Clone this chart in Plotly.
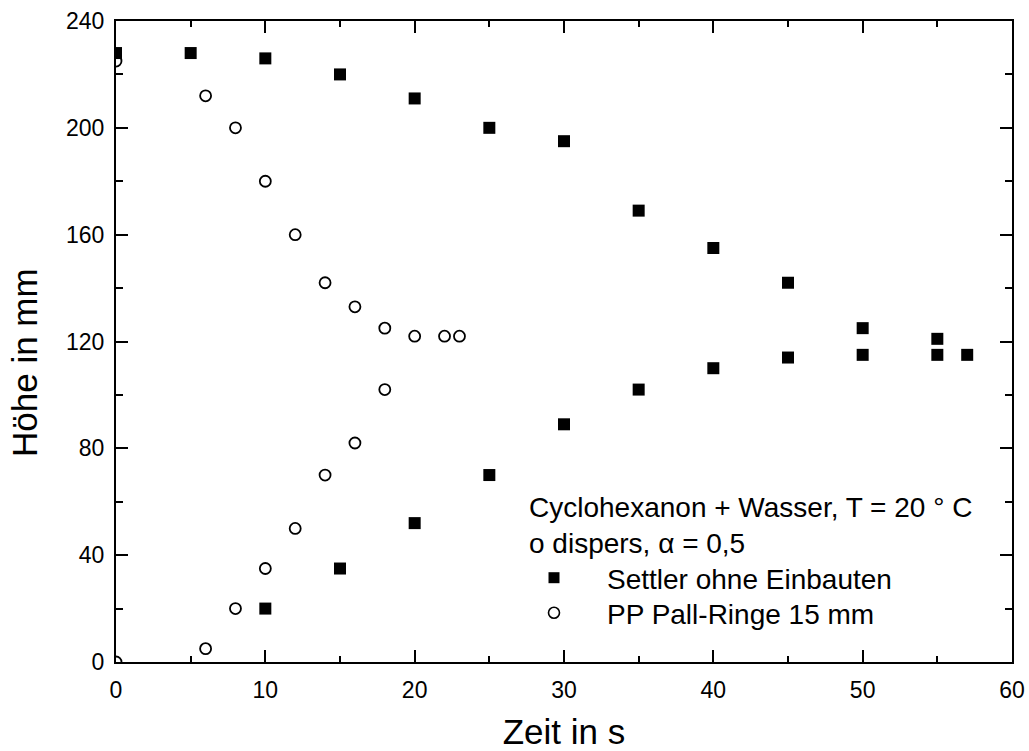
import plotly.graph_objects as go

# Settler ohne Einbauten (filled squares)
settler_t = [0, 5, 10, 15, 20, 25, 30, 35, 40, 45, 50, 55,
             57, 55, 50, 45, 40, 35, 30, 25, 20, 15, 10]
settler_h = [228, 228, 226, 220, 211, 200, 195, 169, 155, 142, 125, 121,
             115, 115, 115, 114, 110, 102, 89, 70, 52, 35, 20]

# PP Pall-Ringe 15 mm (open circles)
pall_t = [0, 6, 8, 10, 12, 14, 16, 18, 20, 22, 23,
          18, 16, 14, 12, 10, 8, 6, 0]
pall_h = [225, 212, 200, 180, 160, 142, 133, 125, 122, 122, 122,
          102, 82, 70, 50, 35, 20, 5, 0]

x_ticks = [0, 10, 20, 30, 40, 50, 60]
y_ticks = [0, 40, 80, 120, 160, 200, 240]

FONT = "Liberation Sans, Arial, sans-serif"

# plot-area geometry in pixels (for placing legend/annotation boxes)
L, R, T, B = 116, 1012, 21, 662
PW, PH = R - L, B - T

fig = go.Figure()
fig.add_trace(go.Scatter(
    x=settler_t, y=settler_h, mode="markers", showlegend=False,
    marker=dict(symbol="square", size=12, color="black", line=dict(width=0)),
))
fig.add_trace(go.Scatter(
    x=pall_t, y=pall_h, mode="markers", showlegend=False,
    marker=dict(symbol="circle-open", size=11, color="black", line=dict(width=1.8)),
))
# legend entries
fig.add_trace(go.Scatter(
    x=[None], y=[None], mode="markers", name="Settler ohne Einbauten", legend="legend",
    marker=dict(symbol="square", size=11, color="black"),
))
fig.add_trace(go.Scatter(
    x=[None], y=[None], mode="markers", name="PP Pall-Ringe 15 mm", legend="legend2",
    marker=dict(symbol="circle-open", size=11, color="black", line=dict(width=1.6)),
))

axis_common = dict(
    showline=True, linecolor="black", linewidth=2, mirror="ticks",
    ticks="inside", ticklen=12, tickwidth=2, tickcolor="black",
    showgrid=False, zeroline=False, automargin=False,
    tickfont=dict(family=FONT, size=23, color="black"),
    title_font=dict(family=FONT, size=35, color="black"),
)

fig.update_xaxes(
    range=[0, 60], tickvals=x_ticks, ticktext=[str(v) for v in x_ticks],
    minor=dict(dtick=5, ticks="inside", ticklen=6, tickwidth=2, tickcolor="black", showgrid=False),
    title_text="Zeit in s", title_standoff=39, ticklabelstandoff=6,
    **axis_common,
)
fig.update_yaxes(
    range=[0, 240], tickvals=y_ticks, ticktext=[str(v) for v in y_ticks],
    minor=dict(dtick=20, ticks="inside", ticklen=7, tickwidth=2, tickcolor="black", showgrid=False),
    ticklabelstandoff=5,
    **axis_common,
)

# y-axis title (placed slightly below the axis centre, as in the original)
fig.add_annotation(
    xref="paper", yref="paper", x=(25 - L) / PW, y=(B - 363) / PH,
    xanchor="center", yanchor="middle", showarrow=False, textangle=-90,
    text="Höhe in mm", font=dict(family=FONT, size=35, color="black"),
)

fig.add_annotation(
    xref="paper", yref="paper", x=(527 - L) / PW, y=(B - 490) / PH,
    xanchor="left", yanchor="top", showarrow=False, align="left",
    text="Cyclohexanon + Wasser, T = 20 ° C<br>o dispers, α = 0,5",
    font=dict(family=FONT, size=28, color="black"),
)

legend_common = dict(
    xanchor="left", yanchor="top",
    bgcolor="rgba(0,0,0,0)", borderwidth=0,
    font=dict(family=FONT, size=28, color="black"),
    itemwidth=96,
)

fig.update_layout(
    width=1029, height=751,
    margin=dict(l=L, r=1029 - R, t=T, b=751 - B),
    plot_bgcolor="white", paper_bgcolor="white",
    font=dict(family=FONT, color="black"),
    legend=dict(x=(501 - L) / PW, y=(B - 553) / PH, **legend_common),
    legend2=dict(x=(501 - L) / PW, y=(B - 588) / PH, **legend_common),
)

fig.write_html("out.html")
